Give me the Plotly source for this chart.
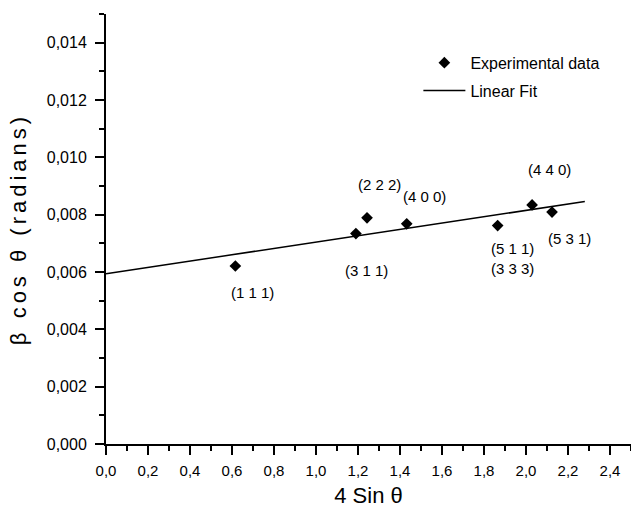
import numpy as np
import plotly.graph_objects as go

# Data
x_exp = [0.616, 1.190, 1.243, 1.432, 1.865, 2.029, 2.124]
y_exp = [0.00621, 0.00734, 0.00789, 0.00768, 0.00762, 0.00834, 0.00809]
hkl_labels = ["(1 1 1)", "(3 1 1)", "(2 2 2)", "(4 0 0)", "(5 1 1)<br>(3 3 3)", "(4 4 0)", "(5 3 1)"]
fit_x_range = [0.0, 2.28]

x_ticks = [0.0, 0.2, 0.4, 0.6, 0.8, 1.0, 1.2, 1.4, 1.6, 1.8, 2.0, 2.2, 2.4]
y_ticks = [0.000, 0.002, 0.004, 0.006, 0.008, 0.010, 0.012, 0.014]

# linear fit of the experimental points
slope, intercept = np.polyfit(x_exp, y_exp, 1)
fit_x = np.array(fit_x_range)
fit_y = slope * fit_x + intercept

# label offsets (pixels) relative to each point
label_shift = [(17, -27), (11, -37), (12, 33), (18, 27), (15, -33), (17, 35), (17, -26)]

FONT = "Liberation Sans, Arial, sans-serif"

fig = go.Figure()
fig.add_trace(go.Scatter(
    x=x_exp, y=y_exp, mode="markers", name="Experimental data", legendgroup="a",
    marker=dict(symbol="diamond", size=9, color="black"),
))
fig.add_trace(go.Scatter(
    x=fit_x, y=fit_y, mode="lines", name="Linear Fit", legendgroup="b",
    line=dict(color="black", width=1.5),
))

for xv, yv, lab, (dx, dy) in zip(x_exp, y_exp, hkl_labels, label_shift):
    fig.add_annotation(x=xv, y=yv, xref="x", yref="y", text=lab, showarrow=False,
                       xshift=dx, yshift=dy, font=dict(family=FONT, size=15, color="black"))

fig.update_layout(
    width=631, height=512,
    margin=dict(l=106, r=0, t=14, b=68),
    paper_bgcolor="white", plot_bgcolor="white",
    separators=",.",
    font=dict(family=FONT, color="black"),
    legend=dict(x=0.595, y=0.926, xanchor="left", yanchor="top",
                bgcolor="rgba(0,0,0,0)", font=dict(family=FONT, size=16),
                itemwidth=42, tracegroupgap=4),
    showlegend=True,
)
fig.update_xaxes(
    range=[0, 2.5], tickvals=x_ticks, tickformat=".1f",
    showline=True, linecolor="black", linewidth=2,
    ticks="outside", ticklen=9, tickwidth=1.8, tickcolor="black",
    minor=dict(dtick=0.1, ticks="outside", ticklen=5, tickwidth=1.5, tickcolor="black"),
    showgrid=False, zeroline=False, ticklabelstandoff=3,
    tickfont=dict(family=FONT, size=15),
    title=dict(text="4 Sin θ", font=dict(family=FONT, size=22), standoff=10),
)
fig.update_yaxes(
    range=[0, 0.015], tickvals=y_ticks, tickformat=".3f",
    showline=True, linecolor="black", linewidth=2,
    ticks="outside", ticklen=9, tickwidth=1.8, tickcolor="black",
    minor=dict(dtick=0.001, ticks="outside", ticklen=5, tickwidth=1.5, tickcolor="black"),
    showgrid=False, zeroline=False, ticklabelstandoff=5,
    tickfont=dict(family=FONT, size=16),
    title=dict(text="β cos θ (radians)", font=dict(family=FONT, size=22), standoff=14),
)

post = """
document.body.style.margin = '0px';
function fixTitle() {
  var t = document.querySelector('.ytitle');
  if (t) { t.style.letterSpacing = '4px'; }
}
fixTitle();
setTimeout(fixTitle, 50);
var gd = document.getElementById('{plot_id}');
if (gd && gd.on) { gd.on('plotly_afterplot', fixTitle); }
"""

fig.write_html("out.html", post_script=post, config={"displayModeBar": False})
